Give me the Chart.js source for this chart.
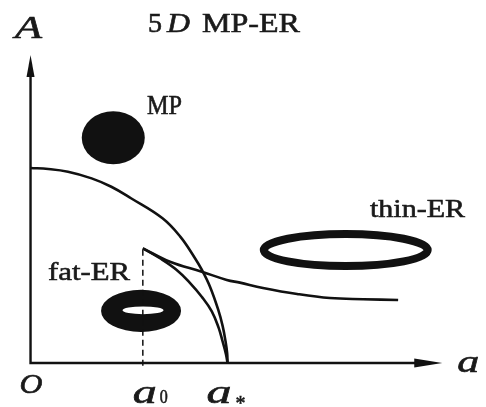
<!DOCTYPE html>
<html>
<head>
<meta charset="utf-8">
<script src="https://cdn.jsdelivr.net/npm/chart.js@4.4.0/dist/chart.umd.min.js"></script>
<style>
  html, body { margin: 0; padding: 0; background: #fff; }
  #wrap { width: 486px; height: 407px; position: relative; }
</style>
</head>
<body>
<div id="wrap"><canvas id="chart"></canvas></div>
<script>
// a in units of a*, A in units of the MP curve's value at a = 0
const A0 = 0.57;      // a0
const ASTAR = 1.0;    // a*

// MP / ER boundary (big outer curve)
const mpA = [0, 0.09, 0.19, 0.31, 0.41, 0.51, 0.67, 0.76, 0.83, 0.87, 0.911, 0.953, 0.975, 0.99, 0.998, 1.0];
const mpY = [1.0, 0.995, 0.981, 0.947, 0.904, 0.845, 0.742, 0.648, 0.545, 0.477, 0.391, 0.272, 0.19, 0.11, 0.05, 0];

// fat-ER branch
const fatA = [0.57, 0.657, 0.742, 0.81, 0.869, 0.92, 0.955, 0.975, 0.992, 1.0];
const fatY = [0.588, 0.537, 0.477, 0.41, 0.34, 0.265, 0.18, 0.11, 0.045, 0];

// thin-ER branch
const thinA = [0.57, 0.708, 0.869, 0.996, 1.063, 1.18, 1.353, 1.52, 1.688, 1.866];
const thinY = [0.588, 0.519, 0.468, 0.426, 0.412, 0.385, 0.354, 0.333, 0.327, 0.323];

// tick marks on the a axis
const tickValues = [0, A0, ASTAR];

// axis extent (arrow tips)
const aEnd = 2.09;
const AEnd = 1.58;

const pts = (xs, ys) => xs.map((x, i) => ({ x: x, y: ys[i] }));

const SERIF = '"Liberation Serif", "DejaVu Serif", serif';

// text squeezed to a target width, slightly heavier than regular
function text(ctx, str, x, y, size, italic, w) {
  ctx.save();
  ctx.font = (italic ? 'italic ' : '') + size + 'px ' + SERIF;
  ctx.textBaseline = 'alphabetic';
  ctx.textAlign = 'left';
  const m = ctx.measureText(str).width;
  ctx.translate(x, y);
  if (w) ctx.scale(w / m, 1);
  ctx.lineWidth = 0.6;
  ctx.strokeStyle = ctx.fillStyle;
  ctx.fillText(str, 0, 0);
  ctx.strokeText(str, 0, 0);
  ctx.restore();
}

const shapes = {
  id: 'shapes',
  beforeDatasetsDraw(chart) {
    const { ctx, scales: { x, y } } = chart;
    const px = v => x.getPixelForValue(v);
    const py = v => y.getPixelForValue(v);
    const rxp = (c, r) => px(c + r) - px(c);
    const ryp = (c, r) => py(c) - py(c + r);
    ctx.save();
    ctx.fillStyle = '#111';
    ctx.strokeStyle = '#111';

    // MP: filled ellipse
    ctx.beginPath();
    ctx.ellipse(px(0.42), py(1.155), rxp(0.42, 0.16), ryp(1.155, 0.136), 0, 0, Math.PI * 2);
    ctx.fill();

    // fat-ER: thick torus
    ctx.beginPath();
    ctx.ellipse(px(0.561), py(0.267), rxp(0.561, 0.203), ryp(0.267, 0.108), 0, 0, Math.PI * 2);
    ctx.ellipse(px(0.571), py(0.27), rxp(0.571, 0.104), ryp(0.27, 0.02), 0, 0, Math.PI * 2);
    ctx.fill('evenodd');

    // thin-ER: thin ring
    ctx.beginPath();
    ctx.lineWidth = 8;
    ctx.ellipse(px(1.6), py(0.579), rxp(1.6, 0.416), ryp(0.579, 0.082), 0, 0, Math.PI * 2);
    ctx.stroke();

    // axes with arrows
    ctx.lineWidth = 2.4;
    ctx.beginPath();
    ctx.moveTo(px(0), py(AEnd) + 18);
    ctx.lineTo(px(0), py(0));
    ctx.lineTo(px(aEnd) - 22, py(0));
    ctx.stroke();
    ctx.beginPath();
    ctx.moveTo(px(0), py(AEnd));
    ctx.lineTo(px(0) - 4, py(AEnd) + 22);
    ctx.lineTo(px(0) + 4, py(AEnd) + 22);
    ctx.closePath();
    ctx.fill();
    ctx.beginPath();
    ctx.moveTo(px(aEnd), py(0));
    ctx.lineTo(px(aEnd) - 28, py(0) - 4.5);
    ctx.lineTo(px(aEnd) - 28, py(0) + 4.5);
    ctx.closePath();
    ctx.fill();
    ctx.restore();
  },
  afterDraw(chart) {
    const { ctx, scales: { x, y } } = chart;
    const px = v => x.getPixelForValue(v);
    const py = v => y.getPixelForValue(v);
    ctx.save();
    ctx.fillStyle = '#1a1a1a';

    // title
    text(ctx, '5', 148, 32, 27, false, 14);
    text(ctx, 'D', 167, 32, 27, true, 23);
    text(ctx, 'MP-ER', 202, 32, 27, false, 98);

    // axis names
    text(ctx, 'A', 15, 38, 31, true, 27);
    text(ctx, 'a', px(aEnd) + 15, py(0) + 9, 32, true, 22);

    // region labels
    text(ctx, 'MP', 147, 114, 27, false, 35);
    text(ctx, 'thin-ER', 370, 217, 26, false, 95);
    text(ctx, 'fat-ER', 48, 280, 26, false, 82);

    // ticks: O, a0, a*
    const base = py(0) + 40;
    text(ctx, 'O', px(tickValues[0]) - 11, py(0) + 30, 27, true, 23);
    text(ctx, 'a', px(tickValues[1]) - 10, base, 33, true, 24);
    text(ctx, '0', px(tickValues[1]) + 17, base, 18, false, 8);
    text(ctx, 'a', px(tickValues[2]) - 21, base, 33, true, 25);
    text(ctx, '*', px(tickValues[2]) + 8, base + 7, 22, false, 10);
    ctx.restore();
  }
};

const lineSet = (data, extra) => Object.assign({
  data: data,
  borderColor: '#111',
  borderWidth: 2.6,
  pointRadius: 0,
  showLine: true,
  fill: false,
  tension: 0.4
}, extra || {});

new Chart(document.getElementById('chart'), {
  type: 'scatter',
  data: {
    datasets: [
      lineSet(pts(mpA, mpY)),
      lineSet(pts(fatA, fatY)),
      lineSet(pts(thinA, thinY)),
      // dashed marker at a0
      lineSet([{ x: A0, y: -0.015 }, { x: A0, y: fatY[0] }],
        { borderWidth: 1.5, borderDash: [6, 4], tension: 0 })
    ]
  },
  options: {
    responsive: true,
    maintainAspectRatio: false,
    animation: false,
    layout: { padding: 0 },
    plugins: {
      legend: { display: false },
      tooltip: { enabled: false }
    },
    scales: {
      x: { type: 'linear', display: false, min: -0.155, max: 2.312 },
      y: { type: 'linear', display: false, min: -0.226, max: 1.862 }
    }
  },
  plugins: [shapes]
});
</script>
</body>
</html>
